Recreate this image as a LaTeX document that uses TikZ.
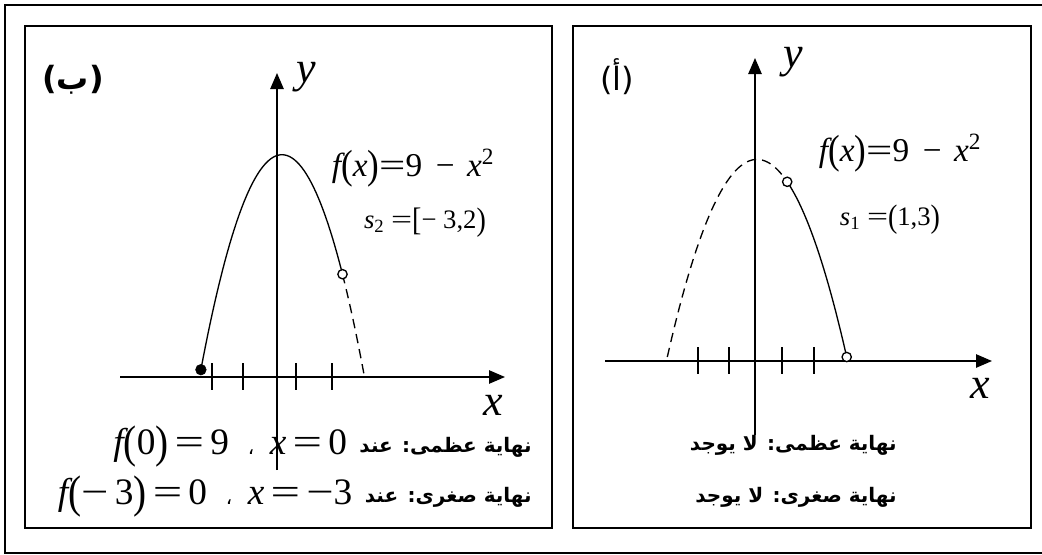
\documentclass[tikz,border=0pt]{standalone}
\usepackage{fontspec}
\usepackage{tikz}
\usetikzlibrary{arrows.meta}
\setmainfont{Liberation Serif}
\newfontfamily\arabicfont[Script=Arabic]{DejaVu Sans}
\TeXXeTstate=1
\newcommand{\vi}[1]{{\itshape #1}}
\newcommand{\tall}[1]{\raisebox{-0.08em}{\scalebox{1.05}[1.22]{#1}}}
\newcommand{\weq}{\scalebox{1.4}[1]{=}}
\newcommand{\wminus}{\scalebox{1.3}[1]{−}}
\newcommand{\acomma}{{\arabicfont\fontsize{15}{18}\selectfont ،}}

\begin{document}
\begin{tikzpicture}[
  x=0.75pt, y=-0.75pt,
  panel/.style={line width=1.4pt},
  axisline/.style={-{Triangle[length=12pt,width=10pt]}, line width=1.2pt},
  tickmark/.style={line width=1.1pt},
  curve/.style={line width=1pt},
  dashcurve/.style={line width=1pt, dash pattern=on 7pt off 4.5pt},
  lbl/.style={font=\fontsize{33}{36}\selectfont\itshape, inner sep=0pt},
  eq/.style={font=\fontsize{25}{28}\selectfont, inner sep=0pt},
  setlbl/.style={font=\fontsize{20}{24}\selectfont, inner sep=0pt},
  tag/.style={font=\fontsize{24}{28}\arabicfont, inner sep=0pt},
  artext/.style={font=\fontsize{15}{18}\arabicfont\bfseries, anchor=east, inner sep=0pt},
  bigmath/.style={font=\fontsize{28}{32}\selectfont, anchor=east, inner sep=0pt},
  hole/.style={draw, circle, fill=white, line width=1pt, inner sep=0pt, minimum size=7pt},
  dot/.style={draw, circle, fill=black, inner sep=0pt, minimum size=8pt}
]
\useasboundingbox (0,0) rectangle (1042,554);
% outer frame, open on the right
\draw[panel] (1042,5) -- (5,5) -- (5,553) -- (1042,553);

% panel (b)
\draw[panel] (25,26) rectangle (552,528);
\draw[axisline] (120,377) -- (505,377);
\draw[axisline] (277,470) -- (277,73);
\foreach \t in {212,243,296,332}
  \draw[tickmark] (\t,363) -- (\t,390);
\draw[curve] plot[domain=-2.95:2.2, samples=60, variable=\u] ({282+27.5*\u}, {377-24.7*(9-\u*\u)});
\draw[dashcurve] plot[domain=2.2:3, samples=12, variable=\u] ({282+27.5*\u}, {377-24.7*(9-\u*\u)});
\node[dot] (endB) at (200.9,369.7) {};
\node[hole] (holeB) at (342.5,274.2) {};
\node[tag, font=\fontsize{24}{28}\arabicfont\bfseries] (tagB) at (73,80) {(ب)};
\node[lbl] (yB) at (306,77) {y};
\node[lbl] (xB) at (493,405) {x};
\node[eq] (fB) at (413,168) {\vi{f}\tall{(}\vi{x}\tall{)}\weq9\hspace{4pt} − \hspace{3pt}\vi{x}\textsuperscript{2}};
\node[setlbl] (sB) at (425,223) {\vi{s}\textsubscript{2} \weq\tall{[}− 3,2\tall{)}};
\node[artext] (maxB) at (532,447) {\beginR نهاية عظمى: عند\endR};
\node[bigmath] (maxBv) at ([xshift=-9pt]maxB.west) {\vi{f}\tall{(}0\tall{)}\,\weq\,9 \ \acomma\, \vi{x}\,\weq\,0};
\node[artext] (minB) at (532,497) {\beginR نهاية صغرى: عند\endR};
\node[bigmath] (minBv) at ([xshift=-9pt]minB.west) {\vi{f}\tall{(}\wminus\,3\tall{)}\,\weq\,0 \ \acomma\, \vi{x}\,\weq\,\wminus3};

% panel (a)
\draw[panel] (573,26) rectangle (1031,528);
\draw[axisline] (605,361) -- (992,361);
\draw[axisline] (755,435) -- (755,58);
\foreach \t in {698,729,782,814}
  \draw[tickmark] (\t,347) -- (\t,374);
\draw[dashcurve] plot[domain=-2.97:1, samples=50, variable=\u] ({757+30.2*\u}, {361-22.4*(9-\u*\u)});
\draw[curve] plot[domain=1:2.97, samples=40, variable=\u] ({757+30.2*\u}, {361-22.4*(9-\u*\u)});
\node[hole] (holeA1) at (787.2,181.8) {};
\node[hole] (holeA2) at (846.7,357) {};
\node[tag] (tagA) at (617,77) {(أ)};
\node[lbl] (yA) at (793,62) {y};
\node[lbl] (xA) at (980,388) {x};
\node[eq] (fA) at (900,153) {\vi{f}\tall{(}\vi{x}\tall{)}\weq9\hspace{4pt} − \hspace{3pt}\vi{x}\textsuperscript{2}};
\node[setlbl] (sA) at (890,220) {\vi{s}\textsubscript{1} \weq\tall{(}1,3\tall{)}};
\node[artext] (maxA) at (897,445) {\beginR نهاية عظمى: لا يوجد\endR};
\node[artext] (minA) at (897,497) {\beginR نهاية صغرى: لا يوجد\endR};
\end{tikzpicture}
\end{document}
